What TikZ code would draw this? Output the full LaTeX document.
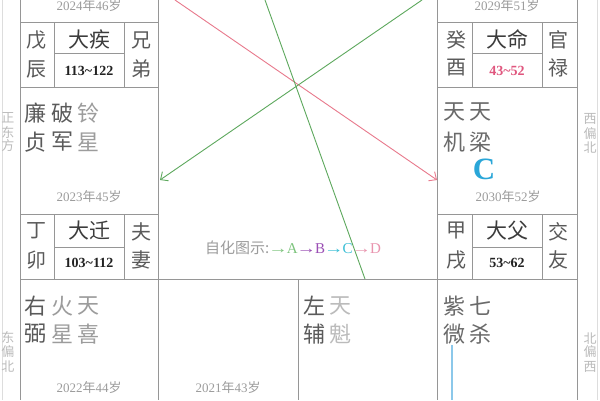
\documentclass[tikz,border=0pt]{standalone}
\usepackage{fontspec}
\setmainfont{Liberation Serif}
\newfontfamily\cjk{Noto Sans CJK SC}
\usetikzlibrary{arrows.meta}
\definecolor{gridc}{HTML}{969696}
\definecolor{faint}{HTML}{DDDDDD}
\definecolor{cA}{HTML}{3C3C3C}
\definecolor{cB}{HTML}{5A5A5A}
\definecolor{cC}{HTML}{6A6A6A}
\definecolor{cD}{HTML}{9C9C9C}
\definecolor{cE}{HTML}{BBBBBB}
\definecolor{cnum}{HTML}{222222}
\definecolor{redl}{HTML}{E8798C}
\definecolor{greenl}{HTML}{5DA85D}
\definecolor{lgA}{HTML}{7DC47D}
\definecolor{lgB}{HTML}{9B4FB5}
\definecolor{lgC}{HTML}{3BBFD6}
\definecolor{lgD}{HTML}{E994AE}
\definecolor{pinknum}{HTML}{E0567E}
\definecolor{cyanC}{HTML}{2AA6D8}
\definecolor{blueln}{HTML}{8CC8EA}
\newcommand{\lgarrow}{\kern-1pt\scalebox{1.3}[1]{→}\kern-1pt}
\tikzset{
 gl/.style={draw=gridc, line width=0.9pt},
 fl/.style={draw=faint, line width=0.8pt},
 tb/.style={inner sep=0, font=\cjk\fontsize{21}{21}\selectfont, text=cA},
 st/.style={inner sep=0, font=\cjk\fontsize{20}{20}\selectfont, text=cB},
 num/.style={inner sep=0, font=\bfseries\fontsize{14}{14}\selectfont, text=cnum},
 yr/.style={inner sep=0, font=\fontsize{13}{13}\selectfont, text=cD},
 star/.style={inner sep=0, font=\cjk\fontsize{22}{22}\selectfont},
 side/.style={inner sep=0, font=\cjk\fontsize{13}{13}\selectfont, text=cE},
 arr/.style={line width=0.9pt, -{Straight Barb[length=6pt,width=11pt]}},
}
\begin{document}
\begin{tikzpicture}[x=1pt,y=-1pt]
\useasboundingbox (0,0) rectangle (600,400);
\fill[white] (0,0) rectangle (600,400);
% faint strips
\draw[fl] (2,0) -- (2,400);
\draw[fl] (597,0) -- (597,400);
% grid
\draw[gl] (20,0) -- (20,400);
\draw[gl] (158,0) -- (158,400);
\draw[gl] (437,0) -- (437,400);
\draw[gl] (577,0) -- (577,400);
\draw[gl] (298,279) -- (298,400);
\draw[gl] (20,279) -- (577,279);
\foreach \yy in {22,87,214} {
  \draw[gl] (20,\yy) -- (158,\yy);
  \draw[gl] (437,\yy) -- (577,\yy);
}
\foreach \yt/\yb/\ym in {22/87/53, 214/279/247} {
  \draw[gl] (54,\yt) -- (54,\yb);
  \draw[gl] (124,\yt) -- (124,\yb);
  \draw[gl] (54,\ym) -- (124,\ym);
  \draw[gl] (472,\yt) -- (472,\yb);
  \draw[gl] (542,\yt) -- (542,\yb);
  \draw[gl] (472,\ym) -- (542,\ym);
}
% top-left table
\node[yr] (y46) at (89,6) {2024{\cjk 年}46{\cjk 岁}};
\node[st] (wu) at (37,40) {戊};
\node[st] (chen) at (37,69) {辰};
\node[tb] (daji) at (89,39) {大疾};
\node[num] (n113) at (89,71) {113\char`~122};
\node[st] (xiong) at (141,40) {兄};
\node[st] (di) at (141,69) {弟};
% left middle cell
\node[star,text=cB] (lian) at (35,113) {廉};
\node[star,text=cB] (zhen) at (35,142) {贞};
\node[star,text=cB] (po) at (62,113) {破};
\node[star,text=cB] (jun) at (62,142) {军};
\node[star,text=cD] (ling) at (88,113) {铃};
\node[star,text=cD] (xing1) at (88,142) {星};
\node[yr] (y45) at (89,197) {2023{\cjk 年}45{\cjk 岁}};
% second left table
\node[st] (ding) at (37,231) {丁};
\node[st] (mao) at (37,260) {卯};
\node[tb] (daqian) at (89,231) {大迁};
\node[num] (n103) at (89,263) {103\char`~112};
\node[st] (fu) at (141,232) {夫};
\node[st] (qi) at (141,260) {妻};
% bottom-left cell
\node[star,text=cB] (you) at (35,306) {右};
\node[star,text=cB] (bi) at (35,334) {弼};
\node[star,text=cD] (huo) at (62,306) {火};
\node[star,text=cD] (xing2) at (62,334) {星};
\node[star,text=cD] (tian1) at (88,306) {天};
\node[star,text=cD] (xi) at (88,334) {喜};
\node[yr] (y44) at (89,388) {2022{\cjk 年}44{\cjk 岁}};
% bottom second cell
\node[yr] (y43) at (228,388) {2021{\cjk 年}43{\cjk 岁}};
% bottom third cell
\node[star,text=cB] (zuo) at (314,306) {左};
\node[star,text=cB] (fu2) at (314,334) {辅};
\node[star,text=cE] (tian2) at (340,306) {天};
\node[star,text=cE] (kui) at (340,334) {魁};
% bottom-right cell
\node[star,text=cC] (zi) at (454,306) {紫};
\node[star,text=cC] (wei) at (454,334) {微};
\node[star,text=cC] (qi7) at (480,306) {七};
\node[star,text=cC] (sha) at (480,334) {杀};
\coordinate (bl1) at (452,345);
\coordinate (bl2) at (452,400);
\draw[blueln, line width=1.4pt] (bl1) -- (bl2);
% top-right table
\node[yr] (y51) at (507,6) {2029{\cjk 年}51{\cjk 岁}};
\node[st] (gui) at (456,40) {癸};
\node[st] (you2) at (456,68) {酉};
\node[tb] (daming) at (507,39) {大命};
\node[num,text=pinknum] (n43) at (507,71) {43\char`~52};
\node[st] (guan) at (558,40) {官};
\node[st] (lu) at (558,68) {禄};
% right middle cell
\node[star,text=cC] (tian3) at (454,112) {天};
\node[star,text=cC] (ji) at (454,142) {机};
\node[star,text=cC] (tian4) at (480,112) {天};
\node[star,text=cC] (liang) at (480,142) {梁};
\node[inner sep=0, font=\bfseries\fontsize{31}{31}\selectfont, text=cyanC] (bigC) at (484,169) {C};
\node[yr] (y52) at (508,197) {2030{\cjk 年}52{\cjk 岁}};
% second right table
\node[st] (jia) at (456,231) {甲};
\node[st] (xu) at (456,260) {戌};
\node[tb] (dafu) at (507,231) {大父};
\node[num] (n53) at (507,263) {53\char`~62};
\node[st] (jiao) at (558,232) {交};
\node[st] (you3) at (558,260) {友};
% side strips
\node[side] (s1) at (8,118) {正};
\node[side] (s2) at (8,132) {东};
\node[side] (s3) at (8,146) {方};
\node[side] (s4) at (8,337) {东};
\node[side] (s5) at (8,352) {偏};
\node[side] (s6) at (8,367) {北};
\node[side] (s7) at (590,119) {西};
\node[side] (s8) at (590,134) {偏};
\node[side] (s9) at (590,148) {北};
\node[side] (s10) at (590,339) {北};
\node[side] (s11) at (590,352) {偏};
\node[side] (s12) at (590,367) {西};
% legend
\node[inner sep=0, anchor=west, font=\fontsize{15}{15}\selectfont, text=cD] (legend) at (205,248)
  {{\cjk 自化图示:}\textcolor{lgA}{\lgarrow A}\textcolor{lgB}{\lgarrow B}\textcolor{lgC}{\lgarrow C}\textcolor{lgD}{\lgarrow D}};
% arrows
\coordinate (r1) at (175,0);
\coordinate (r2) at (437,180);
\coordinate (g1) at (422,0);
\coordinate (g2) at (160,180);
\coordinate (g3) at (265,0);
\coordinate (g4) at (365,279);
\draw[arr, redl] (r1) -- (r2);
\draw[arr, greenl] (g1) -- (g2);
\draw[greenl, line width=0.9pt] (g3) -- (g4);
\end{tikzpicture}
\end{document}
